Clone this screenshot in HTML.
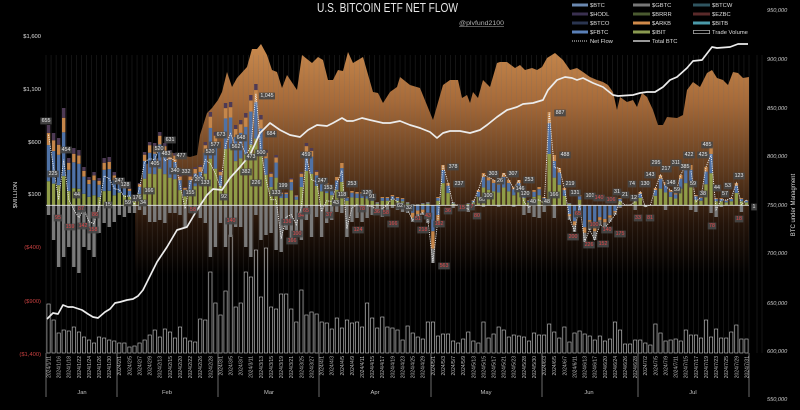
<!DOCTYPE html>
<html><head><meta charset="utf-8">
<style>
html,body{margin:0;padding:0;background:#000;}
svg{display:block;font-family:"Liberation Sans",Arial,sans-serif;}
</style></head><body>
<svg id="c" width="800" height="410" viewBox="0 0 800 410" xmlns="http://www.w3.org/2000/svg">
<defs>
<linearGradient id="ag" gradientUnits="userSpaceOnUse" x1="0" y1="44" x2="0" y2="275">
<stop offset="0" stop-color="#c98a4e"/>
<stop offset="0.25" stop-color="#a66a39"/>
<stop offset="0.55" stop-color="#5e3a1e"/>
<stop offset="0.78" stop-color="#24140a"/>
<stop offset="1" stop-color="#000"/>
</linearGradient>
</defs>
<rect width="800" height="410" fill="#000"/>
<g id="gArea"></g>
<g id="gGrid"></g>
<g id="gVol"></g>
<g id="gBars"></g>
<line x1="46" y1="205.3" x2="749" y2="205.3" stroke="#e8e8e8" stroke-width="0.9"/>
<g id="gLines"></g>

<!-- data labels -->
<g id="lbl" font-size="5.3" text-anchor="middle">
<g fill="#e8e8e8">
<text x="46" y="122">655</text><text x="53" y="175">225</text><text x="66" y="151">454</text><text x="77" y="196">44</text>
<text x="108" y="206">15</text><text x="119" y="182">247</text><text x="125" y="186">128</text>
<text x="128" y="204">59</text><text x="137" y="199">176</text><text x="143" y="204">34</text><text x="149" y="192">166</text>
<text x="155" y="165">405</text><text x="159" y="150">520</text><text x="166" y="155">483</text><text x="170" y="141">631</text>
<text x="175" y="172">340</text><text x="181" y="157">477</text><text x="186" y="173">332</text><text x="190" y="194">155</text>
<text x="199" y="181">202</text><text x="205" y="184">133</text><text x="210" y="153">520</text><text x="215" y="146">577</text>
<text x="221" y="136">673</text><text x="224" y="198">92</text><text x="236" y="148">562</text><text x="241" y="139">648</text>
<text x="246" y="173">382</text><text x="251" y="158">473</text><text x="256" y="184">226</text><text x="261" y="154">500</text>
<text x="267" y="97">1,045</text><text x="271" y="135">684</text><text x="276" y="194">133</text><text x="283" y="187">199</text>
<text x="306" y="156">459</text><text x="322" y="182">247</text><text x="328" y="189">153</text><text x="336" y="204">43</text>
<text x="342" y="196">118</text><text x="352" y="185">253</text><text x="367" y="194">120</text><text x="372" y="198">91</text>
<text x="400" y="207">62</text><text x="409" y="209">32</text><text x="453" y="168">378</text><text x="459" y="185">237</text>
<text x="482" y="201">66</text><text x="488" y="197">100</text><text x="493" y="175">303</text><text x="500" y="182">26</text>
<text x="513" y="175">307</text><text x="520" y="190">146</text><text x="529" y="181">253</text><text x="525" y="195">120</text>
<text x="533" y="203">40</text><text x="547" y="203">48</text><text x="554" y="196">166</text><text x="560" y="114">887</text>
<text x="565" y="156">488</text><text x="570" y="185">219</text><text x="575" y="194">131</text><text x="590" y="197">101</text>
<text x="617" y="193">31</text><text x="625" y="196">21</text><text x="634" y="199">12</text><text x="632" y="185">74</text>
<text x="645" y="185">130</text><text x="650" y="176">143</text><text x="656" y="164">295</text><text x="666" y="170">217</text>
<text x="671" y="184">148</text><text x="677" y="191">59</text><text x="676" y="164">311</text><text x="685" y="168">385</text>
<text x="689" y="156">422</text><text x="693" y="185">59</text><text x="703" y="156">425</text><text x="707" y="146">485</text>
<text x="703" y="195">38</text><text x="717" y="189">44</text><text x="725" y="195">57</text><text x="728" y="187">53</text>
<text x="739" y="177">123</text><text x="754" y="208">1</text>
</g>
<g fill="#e04a4a">
<text x="58" y="219">95</text><text x="70" y="228">159</text><text x="81" y="210">87</text><text x="83" y="227">142</text>
<text x="93" y="231">158</text><text x="95" y="216">86</text><text x="193" y="211">58</text><text x="231" y="222">140</text>
<text x="287" y="223">136</text><text x="292" y="242">166</text><text x="297" y="235">100</text><text x="301" y="217">94</text>
<text x="306" y="212">65</text><text x="329" y="216">37</text><text x="358" y="231">124</text><text x="362" y="210">78</text>
<text x="377" y="213">36</text><text x="386" y="214">58</text><text x="393" y="225">166</text><text x="418" y="220">51</text>
<text x="423" y="231">218</text><text x="428" y="217">43</text><text x="439" y="225">182</text><text x="444" y="267">563</text>
<text x="448" y="212">36</text><text x="462" y="209">15</text><text x="472" y="208">7</text><text x="477" y="217">80</text>
<text x="573" y="238">200</text><text x="578" y="215">65</text><text x="589" y="246">226</text><text x="594" y="226">100</text>
<text x="599" y="199">140</text><text x="603" y="245">152</text><text x="607" y="231">140</text><text x="611" y="201">106</text>
<text x="620" y="235">175</text><text x="638" y="219">33</text><text x="650" y="219">81</text><text x="712" y="227">78</text>
<text x="739" y="220">18</text>
</g>
</g>

<!-- left axis -->
<g font-size="5.8" text-anchor="end">
<text x="41" y="38" fill="#e0e0e0">$1,600</text>
<text x="41" y="91" fill="#e0e0e0">$1,100</text>
<text x="41" y="144" fill="#e0e0e0">$600</text>
<text x="41" y="196" fill="#e0e0e0">$100</text>
<text x="41" y="249" fill="#c84040">($400)</text>
<text x="41" y="303" fill="#c84040">($900)</text>
<text x="41" y="356" fill="#c84040">($1,400)</text>
</g>
<text transform="translate(17,195) rotate(-90)" font-size="5.8" fill="#dcdcdc" text-anchor="middle">$MILLION</text>

<!-- right axis -->
<g font-size="5.6" font-style="italic" fill="#cfcfcf">
<text x="767" y="12">950,000</text>
<text x="767" y="61">900,000</text>
<text x="767" y="110">850,000</text>
<text x="767" y="158">800,000</text>
<text x="767" y="207">750,000</text>
<text x="767" y="255">700,000</text>
<text x="767" y="305">650,000</text>
<text x="767" y="353">600,000</text>
<text x="767" y="401">550,000</text>
</g>
<text transform="translate(795,205) rotate(-90)" font-size="6" fill="#dcdcdc" text-anchor="middle">BTC under Managment</text>

<!-- title -->
<text x="317" y="12" font-size="12.5" textLength="141" lengthAdjust="spacingAndGlyphs" fill="#e6e6e6">U.S. BITCOIN ETF NET FLOW</text>
<text x="459" y="25" font-size="6.3" textLength="45" lengthAdjust="spacingAndGlyphs" fill="#b0b0b0">@plvfund2100</text>
<line x1="459" y1="26.4" x2="504" y2="26.4" stroke="#b0b0b0" stroke-width="0.5"/>

<!-- legend -->
<g font-size="5.8" fill="#dedede">
<rect x="572" y="3.5" width="16" height="3" fill="#6a88b0"/><text x="590" y="7">$BTC</text>
<rect x="633" y="3.5" width="17" height="3" fill="#777777"/><text x="652" y="7">$GBTC</text>
<rect x="693" y="3.5" width="17" height="3" fill="#2f5560"/><text x="712" y="7">$BTCW</text>
<rect x="572" y="12.5" width="16" height="3" fill="#3a3050"/><text x="590" y="16">$HODL</text>
<rect x="633" y="12.5" width="17" height="3" fill="#4a5a30"/><text x="652" y="16">$BRRR</text>
<rect x="693" y="12.5" width="17" height="3" fill="#5a2a2a"/><text x="712" y="16">$EZBC</text>
<rect x="572" y="21.5" width="16" height="3" fill="#2a3550"/><text x="590" y="25">$BTCO</text>
<rect x="633" y="21.5" width="17" height="3" fill="#d08a4a"/><text x="652" y="25">$ARKB</text>
<rect x="693" y="21.5" width="17" height="3" fill="#4a9aaa"/><text x="712" y="25">$BITB</text>
<rect x="572" y="30.5" width="16" height="3" fill="#5a80b8"/><text x="590" y="34">$FBTC</text>
<rect x="633" y="30.5" width="17" height="3" fill="#8a9a50"/><text x="652" y="34">$IBIT</text>
<rect x="693.5" y="30.3" width="16" height="3.4" fill="none" stroke="#dddddd" stroke-width="0.6"/><text x="712" y="34">Trade Volume</text>
<line x1="572" y1="41" x2="588" y2="41" stroke="#e0e0e0" stroke-width="1" stroke-dasharray="1 1"/><text x="590" y="43">Net Flow</text>
<line x1="633" y1="41" x2="650" y2="41" stroke="#cccccc" stroke-width="1.6"/><text x="652" y="43">Total BTC</text>
</g>

<!-- category axis: month separators & labels -->
<g stroke="#9a9a9a" stroke-width="0.7">
<line x1="46" y1="353" x2="46" y2="397"/><line x1="117" y1="353" x2="117" y2="397"/>
<line x1="218" y1="353" x2="218" y2="397"/><line x1="319" y1="353" x2="319" y2="397"/>
<line x1="431" y1="353" x2="431" y2="397"/><line x1="542" y1="353" x2="542" y2="397"/>
<line x1="638" y1="353" x2="638" y2="397"/><line x1="749" y1="353" x2="749" y2="397"/>
</g>
<g font-size="5.8" fill="#c0c0c0" text-anchor="middle">
<text x="82" y="394">Jan</text><text x="167" y="394">Feb</text><text x="269" y="394">Mar</text>
<text x="375" y="394">Apr</text><text x="486" y="394">May</text><text x="589" y="394">Jun</text><text x="693" y="394">Jul</text>
</g>
<g font-size="5" fill="#bdbdbd" text-anchor="end">
<text transform="translate(50.4,356) rotate(-90)">2024/1/11</text>
<text transform="translate(60.5,356) rotate(-90)">2024/1/16</text>
<text transform="translate(70.7,356) rotate(-90)">2024/1/18</text>
<text transform="translate(80.8,356) rotate(-90)">2024/1/22</text>
<text transform="translate(90.9,356) rotate(-90)">2024/1/24</text>
<text transform="translate(101.0,356) rotate(-90)">2024/1/26</text>
<text transform="translate(111.1,356) rotate(-90)">2024/1/30</text>
<text transform="translate(121.2,356) rotate(-90)">2024/2/1</text>
<text transform="translate(131.3,356) rotate(-90)">2024/2/5</text>
<text transform="translate(141.5,356) rotate(-90)">2024/2/7</text>
<text transform="translate(151.6,356) rotate(-90)">2024/2/9</text>
<text transform="translate(161.7,356) rotate(-90)">2024/2/13</text>
<text transform="translate(171.8,356) rotate(-90)">2024/2/15</text>
<text transform="translate(181.9,356) rotate(-90)">2024/2/20</text>
<text transform="translate(192.0,356) rotate(-90)">2024/2/22</text>
<text transform="translate(202.2,356) rotate(-90)">2024/2/26</text>
<text transform="translate(212.3,356) rotate(-90)">2024/2/28</text>
<text transform="translate(222.4,356) rotate(-90)">2024/3/1</text>
<text transform="translate(232.5,356) rotate(-90)">2024/3/5</text>
<text transform="translate(242.6,356) rotate(-90)">2024/3/7</text>
<text transform="translate(252.7,356) rotate(-90)">2024/3/11</text>
<text transform="translate(262.8,356) rotate(-90)">2024/3/13</text>
<text transform="translate(273.0,356) rotate(-90)">2024/3/15</text>
<text transform="translate(283.1,356) rotate(-90)">2024/3/19</text>
<text transform="translate(293.2,356) rotate(-90)">2024/3/21</text>
<text transform="translate(303.3,356) rotate(-90)">2024/3/25</text>
<text transform="translate(313.4,356) rotate(-90)">2024/3/27</text>
<text transform="translate(323.5,356) rotate(-90)">2024/4/1</text>
<text transform="translate(333.7,356) rotate(-90)">2024/4/3</text>
<text transform="translate(343.8,356) rotate(-90)">2024/4/5</text>
<text transform="translate(353.9,356) rotate(-90)">2024/4/9</text>
<text transform="translate(364.0,356) rotate(-90)">2024/4/11</text>
<text transform="translate(374.1,356) rotate(-90)">2024/4/15</text>
<text transform="translate(384.2,356) rotate(-90)">2024/4/17</text>
<text transform="translate(394.3,356) rotate(-90)">2024/4/19</text>
<text transform="translate(404.5,356) rotate(-90)">2024/4/23</text>
<text transform="translate(414.6,356) rotate(-90)">2024/4/25</text>
<text transform="translate(424.7,356) rotate(-90)">2024/4/29</text>
<text transform="translate(434.8,356) rotate(-90)">2024/5/1</text>
<text transform="translate(444.9,356) rotate(-90)">2024/5/3</text>
<text transform="translate(455.0,356) rotate(-90)">2024/5/7</text>
<text transform="translate(465.2,356) rotate(-90)">2024/5/9</text>
<text transform="translate(475.3,356) rotate(-90)">2024/5/13</text>
<text transform="translate(485.4,356) rotate(-90)">2024/5/15</text>
<text transform="translate(495.5,356) rotate(-90)">2024/5/17</text>
<text transform="translate(505.6,356) rotate(-90)">2024/5/21</text>
<text transform="translate(515.7,356) rotate(-90)">2024/5/23</text>
<text transform="translate(525.8,356) rotate(-90)">2024/5/28</text>
<text transform="translate(536.0,356) rotate(-90)">2024/5/30</text>
<text transform="translate(546.1,356) rotate(-90)">2024/6/3</text>
<text transform="translate(556.2,356) rotate(-90)">2024/6/5</text>
<text transform="translate(566.3,356) rotate(-90)">2024/6/7</text>
<text transform="translate(576.4,356) rotate(-90)">2024/6/11</text>
<text transform="translate(586.5,356) rotate(-90)">2024/6/13</text>
<text transform="translate(596.7,356) rotate(-90)">2024/6/17</text>
<text transform="translate(606.8,356) rotate(-90)">2024/6/20</text>
<text transform="translate(616.9,356) rotate(-90)">2024/6/24</text>
<text transform="translate(627.0,356) rotate(-90)">2024/6/26</text>
<text transform="translate(637.1,356) rotate(-90)">2024/6/28</text>
<text transform="translate(647.2,356) rotate(-90)">2024/7/2</text>
<text transform="translate(657.3,356) rotate(-90)">2024/7/5</text>
<text transform="translate(667.5,356) rotate(-90)">2024/7/9</text>
<text transform="translate(677.6,356) rotate(-90)">2024/7/11</text>
<text transform="translate(687.7,356) rotate(-90)">2024/7/15</text>
<text transform="translate(697.8,356) rotate(-90)">2024/7/17</text>
<text transform="translate(707.9,356) rotate(-90)">2024/7/19</text>
<text transform="translate(718.0,356) rotate(-90)">2024/7/23</text>
<text transform="translate(728.2,356) rotate(-90)">2024/7/25</text>
<text transform="translate(738.3,356) rotate(-90)">2024/7/29</text>
<text transform="translate(748.4,356) rotate(-90)">2024/7/31</text>
</g>
</svg>
<script>
(function(){
const NS='http://www.w3.org/2000/svg';
function mk(tag,a,p,before){const e=document.createElementNS(NS,tag);for(const k in a)e.setAttribute(k,a[k]);if(before)p.insertBefore(e,before);else p.appendChild(e);return e;}
const N=139,X0=46,W=703,ST=W/N,Z=205.3;
function near(arr,x){let b=arr[0],bd=1e9;for(const r of arr){const d=Math.abs(r[0]-x);if(d<bd){bd=d;b=r;}}return b;}

// AUM area
const A=[[135,205],[145,165],[160,157],[170,152],[180,155],[190,157],[197,155],[200,135],[207,113],[212,108],[218,100],[222,92],[227,72],[232,87],[237,78],[247,67],[252,49],[257,49],[261,44],[267,55],[272,70],[277,72],[282,88],[287,75],[297,90],[302,55],[312,63],[318,57],[323,60],[328,80],[333,80],[338,70],[343,71],[348,52],[353,63],[363,57],[373,92],[378,93],[383,103],[390,92],[397,87],[400,77],[410,85],[420,88],[433,120],[443,85],[450,80],[458,80],[462,98],[467,95],[470,103],[473,92],[478,98],[483,80],[490,87],[497,63],[500,62],[507,62],[515,68],[520,65],[525,70],[532,68],[537,70],[542,67],[547,58],[555,53],[563,60],[570,70],[577,68],[583,72],[590,77],[597,80],[603,82],[608,85],[613,92],[617,110],[620,97],[627,102],[633,100],[637,107],[642,93],[647,97],[653,110],[658,125],[663,125],[667,117],[677,118],[683,115],[687,90],[693,82],[700,87],[707,73],[712,70],[717,78],[723,80],[728,85],[733,72],[738,73],[743,78],[749,77]];
mk('path',{d:'M'+A.map(p=>p.join(',')).join(' L')+' L749,353 L135,353 Z',fill:'url(#ag)'},document.getElementById('gArea'));

// grid
const gG=document.getElementById('gGrid');
for(let i=0;i<=N;i++){const x=X0+i*ST;mk('line',{x1:x,y1:55,x2:x,y2:353,stroke:'rgba(110,110,110,0.3)','stroke-width':0.6},gG);}
[757,762].forEach(x=>mk('line',{x1:x,y1:55,x2:x,y2:353,stroke:'rgba(110,110,110,0.3)','stroke-width':0.6},gG));

// volume
const V=[[47,304],[53,320],[58,333],[63,330],[68,331],[73,327],[78,332],[83,337],[88,340],[93,343],[98,337],[103,338],[108,340],[113,341],[118,343],[123,343],[128,347],[133,346],[138,343],[143,340],[148,335],[153,330],[158,337],[163,329],[168,332],[173,338],[178,327],[183,338],[188,341],[193,342],[198,319],[203,320],[208,272],[213,303],[220,315],[225,291],[230,235],[235,307],[240,303],[245,272],[250,277],[255,250],[260,297],[265,248],[270,307],[275,309],[280,294],[285,294],[290,309],[295,322],[300,290],[305,315],[310,312],[315,314],[320,322],[325,323],[330,329],[335,318],[340,328],[345,320],[350,323],[355,322],[360,327],[365,303],[370,318],[375,328],[380,317],[385,327],[390,328],[395,330],[400,340],[407,326],[412,333],[417,337],[422,339],[427,322],[432,322],[437,336],[442,334],[447,334],[453,341],[458,343],[463,339],[468,332],[473,341],[478,343],[483,322],[488,338],[493,334],[498,327],[503,330],[508,337],[513,335],[518,336],[523,337],[528,341],[533,333],[538,335],[543,335],[548,324],[553,332],[558,338],[563,327],[568,342],[573,333],[578,331],[583,334],[588,336],[593,340],[598,336],[603,341],[608,339],[615,322],[620,330],[625,344],[630,344],[635,340],[640,340],[645,343],[650,345],[655,324],[660,333],[665,341],[670,340],[675,339],[680,341],[685,330],[690,335],[695,335],[700,338],[705,320],[710,337],[715,329],[720,338],[725,338],[730,332],[735,325],[740,339],[747,339]];
const gV=document.getElementById('gVol');
for(let i=0;i<N;i++){const xc=X0+(i+0.5)*ST;const v=near(V,xc)[1];mk('rect',{x:xc-1.6,y:v,width:3.2,height:353-v,fill:'none',stroke:'#cfcfcf','stroke-width':0.6},gV);}

// net flow bars
const P=[[48,125,215],[53,133,240],[58,138,267],[64,108,257],[69,158,247],[74,148,267],[79,150,273],[84,167,247],[89,177,250],[94,172,257],[99,178,233],[104,158,223],[109,157,227],[115,172,222],[120,180,215],[125,185,217],[130,188,213],[135,197,213],[140,183,210],[145,152,215],[150,142,222],[155,143,222],[160,132,220],[165,143,223],[170,150,213],[175,153,213],[180,175,215],[185,187,227],[190,175,213],[195,167,213],[200,165,218],[205,142,223],[210,112,257],[215,132,247],[220,170,223],[225,103,247],[230,102,237],[235,125,227],[240,120,227],[245,113,247],[250,95,257],[256,84,215],[261,115,240],[266,150,235],[271,172,233],[277,155,250],[282,192,252],[287,192,230],[292,178,242],[297,195,235],[302,172,240],[307,143,220],[312,148,237],[317,170,217],[322,180,237],[327,183,223],[332,187,220],[337,177,212],[342,163,213],[347,197,237],[352,191,222],[357,192,218],[362,192,222],[367,193,218],[372,197,215],[377,202,213],[382,197,217],[388,197,213],[393,195,208],[398,197,210],[403,198,212],[408,202,213],[413,204,222],[418,204,217],[423,203,215],[428,202,223],[433,205,263],[438,197,227],[443,165,205],[448,183,205],[453,202,208],[458,205,205],[463,205,206],[468,203,212],[473,200,207],[478,190,205],[483,173,207],[488,177,205],[493,180,205],[498,182,207],[503,173,205],[508,180,205],[513,187,207],[518,180,205],[523,192,215],[528,200,213],[534,190,217],[539,187,218],[544,197,212],[549,112,205],[554,155,218],[559,168,205],[564,188,205],[569,203,220],[574,205,232],[579,195,215],[584,205,242],[589,205,230],[594,205,240],[599,205,225],[604,205,228],[609,205,222],[614,205,215],[619,198,208],[624,205,205],[629,205,205],[634,197,210],[639,192,205],[644,205,207],[649,205,205],[654,188,205],[659,175,205],[664,182,210],[669,190,205],[674,193,205],[679,175,205],[684,165,205],[689,165,210],[694,195,212],[699,197,205],[704,167,205],[709,147,213],[714,198,217],[719,198,207],[724,200,205],[729,198,205],[734,183,205],[739,198,212],[744,202,205],[748,200,205]];
function comp(x){
 if(x<117) return [['#8f9c48',.3],['#4f72a6',.45],['#c5864a',.15],['#4e3a55',.1]];
 if(x<218) return [['#8f9c48',.5],['#4f72a6',.33],['#c5864a',.12],['#4e3a55',.05]];
 if(x<320) return [['#8f9c48',.55],['#4f72a6',.3],['#c5864a',.1],['#4e3a55',.05]];
 return [['#8f9c48',.55],['#4f72a6',.33],['#c5864a',.12]];
}
function ncomp(x){
 if(x>405&&x<445) return [['#4f72a6',.45],['#c5864a',.3],['#7a7a7a',.25]];
 if(x>568&&x<626) return [['#4f72a6',.6],['#c5864a',.15],['#7a7a7a',.25]];
 return [['#7a7a7a',1]];
}
const gB=document.getElementById('gBars');
const net=[];
const BW=3.4;
for(let i=0;i<N;i++){
 const xc=X0+(i+0.5)*ST;const r=near(P,xc);
 let ph=Math.max(0,Z-r[1]);let nh=Math.max(0,r[2]-Z);
 let y=Z;
 for(const [c,f] of comp(xc)){const h=ph*f;if(h>0.05){mk('rect',{x:xc-BW/2,y:y-h,width:BW,height:h,fill:c},gB);}y-=h;}
 y=Z;
 for(const [c,f] of ncomp(xc)){const h=nh*f;if(h>0.05){mk('rect',{x:xc-BW/2,y:y,width:BW,height:h,fill:c},gB);}y+=h;}
 net.push([xc,Z-ph+nh]);
}
const gL=document.getElementById('gLines');
// total BTC
const T=[[47,319],[53,313],[58,314],[63,305],[68,307],[73,307],[82,310],[88,314],[93,317],[98,318],[105,312],[110,309],[115,303],[120,302],[127,300],[133,299],[138,296],[143,290],[148,280],[157,262],[167,247],[177,230],[187,227],[197,210],[207,195],[213,189],[222,190],[230,178],[240,167],[250,155],[260,133],[270,123],[280,130],[290,135],[300,137],[308,130],[317,125],[327,126],[333,123],[342,118],[347,121],[353,121],[362,118],[370,120],[383,123],[390,123],[400,121],[410,125],[420,128],[430,132],[437,138],[443,133],[450,131],[460,131],[470,133],[480,130],[487,125],[497,117],[507,110],[517,107],[523,104],[533,103],[543,100],[548,90],[557,80],[565,77],[572,78],[577,80],[583,78],[593,83],[603,87],[613,95],[618,96],[633,95],[640,93],[647,92],[655,92],[663,87],[670,80],[677,77],[687,68],[693,61],[702,60],[712,47],[717,48],[730,47],[738,44],[748,44]];
mk('polyline',{points:T.map(p=>p.join(',')).join(' '),fill:'none',stroke:'#ececec','stroke-width':1.7,'stroke-linejoin':'round'},gL);
mk('polyline',{points:net.map(p=>p[0].toFixed(1)+','+p[1].toFixed(1)).join(' '),fill:'none',stroke:'#eeeeee','stroke-width':0.9,'stroke-dasharray':'1.2 1'},gL);

// label boxes
const texts=document.querySelectorAll('#lbl text');
texts.forEach(t=>{const b=t.getBBox();mk('rect',{x:b.x-1.3,y:b.y-0.4,width:b.width+2.6,height:b.height+0.8,fill:'#474747','fill-opacity':0.92},t.parentNode,t);});
})();
</script>
</body></html>
